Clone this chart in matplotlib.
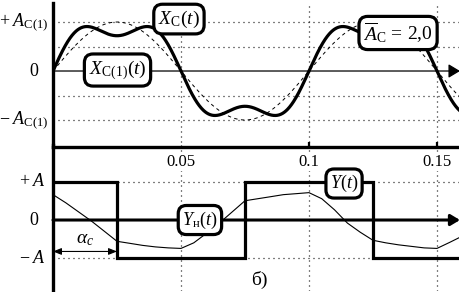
import numpy as np
import matplotlib
matplotlib.use("Agg")
import matplotlib.pyplot as plt

plt.rcParams['font.family'] = ['Liberation Serif', 'DejaVu Serif']
plt.rcParams['mathtext.fontset'] = 'custom'
plt.rcParams['mathtext.rm'] = 'Liberation Serif'
plt.rcParams['mathtext.it'] = 'Liberation Serif:italic'
plt.rcParams['mathtext.bf'] = 'Liberation Serif:bold'

# ---------------- data ----------------
T_MAX = 0.159
PERIOD = 0.1
harmonic_orders = [1, 3]
xc_amplitudes = [1.0, 0.28]      # X_C(t): fundamental + 3rd harmonic
xc1_amplitudes = [1.0, 0.0]      # X_C(1)(t): fundamental only

y_switch_times = [0.0, 0.025, 0.075, 0.125, T_MAX]
y_levels = [1, -1, 1, -1]

yh_times = [0.000, 0.005, 0.010, 0.015, 0.020, 0.025, 0.030, 0.035, 0.040,
            0.045, 0.050, 0.055, 0.060, 0.065, 0.070, 0.075, 0.080, 0.085,
            0.090, 0.095, 0.100, 0.105, 0.110, 0.115, 0.120, 0.125, 0.130,
            0.135, 0.140, 0.145, 0.150, 0.155, 0.159]
yh_values = [0.667, 0.453, 0.213, -0.027, -0.293, -0.560, -0.613, -0.667, -0.707,
             -0.733, -0.747, -0.600, -0.347, -0.080, 0.213, 0.507, 0.560, 0.613,
             0.667, 0.693, 0.720, 0.560, 0.267, -0.080, -0.320, -0.533, -0.600,
             -0.653, -0.693, -0.733, -0.747, -0.587, -0.453]

x_ticks = [0.05, 0.1, 0.15]
x_tick_labels = ['0.05', '0.1', '0.15']
alpha_c = 0.025

# ---------------- figure ----------------
fig = plt.figure(figsize=(4.6, 2.92), dpi=100)
W, H = 460.0, 292.0
ax1 = fig.add_axes([53 / W, (H - 147) / H, 407 / W, 144 / H])
ax2 = fig.add_axes([53 / W, 1 / H, 407 / W, 146 / H])
for ax in (ax1, ax2):
    ax.set_facecolor('none')
    ax.set_xlim(0, T_MAX)
    ax.set_xticks([])
    ax.set_yticks([])
    for s in ('top', 'right'):
        ax.spines[s].set_visible(False)
    ax.spines['left'].set_linewidth(2.4)
ax1.set_ylim(-1.551, 1.388)
ax2.set_ylim(-1.867, 1.973)
ax1.spines['bottom'].set_linewidth(2.4)
ax2.spines['bottom'].set_visible(False)

dot = dict(color='black', lw=0.9, ls=(0, (0.8, 3.2)), zorder=1)
for v in (1, 0.5, -0.5, -1):
    ax1.axhline(v, **dot)
for v in (1, -1):
    ax2.axhline(v, **dot)
for tx in x_ticks:
    ax1.axvline(tx, **dot)
    ax2.axvline(tx, **dot)

# ticks on top axis bottom spine
for tx in x_ticks[1:]:
    ax1.plot([tx, tx], [-1.551, -1.45], color='black', lw=1.6, solid_capstyle='butt', clip_on=False)

# zero lines with arrows
ax1.annotate('', xy=(T_MAX, 0), xytext=(0, 0),
             arrowprops=dict(arrowstyle='-|>,head_length=0.5,head_width=0.3', color='black', lw=0.9,
                             mutation_scale=14, shrinkA=0, shrinkB=0), zorder=2)
ax2.annotate('', xy=(T_MAX, 0), xytext=(0, 0),
             arrowprops=dict(arrowstyle='-|>,head_length=0.5,head_width=0.3', color='black', lw=2.2,
                             mutation_scale=11, shrinkA=0, shrinkB=0), zorder=2)

# ---------------- curves ----------------
t = np.linspace(0, T_MAX, 1200)
w = 2 * np.pi / PERIOD
xc = sum(a * np.sin(k * w * t) for k, a in zip(harmonic_orders, xc_amplitudes))
xc1 = sum(a * np.sin(k * w * t) for k, a in zip(harmonic_orders, xc1_amplitudes))
ax1.plot(t, xc1, color='black', lw=0.7, ls=(0, (3.5, 3.5)), zorder=3)
ax1.plot(t, xc, color='black', lw=2.3, zorder=4)

ax2.step(y_switch_times, y_levels + [y_levels[-1]], where='post', color='black', lw=2.3,
         solid_joinstyle='miter', zorder=4)
ax2.plot(yh_times, yh_values, color='black', lw=0.8, zorder=3)

# ---------------- labels ----------------
box = dict(boxstyle='round,pad=0.22,rounding_size=0.45', fc='white', ec='black', lw=2.3)
ax1.text(0.0492, 1.06, r'$X_{\mathrm{C}}(t)$', fontsize=14, ha='center', va='center', bbox=box, zorder=10)
ax1.text(0.0252, 0.02, r'$X_{\mathrm{C(1)}}(t)$', fontsize=14, ha='center', va='center', bbox=box, zorder=10)
ax1.text(0.1348, 0.776, r'$\overline{A}_{\mathrm{C}}\,=\,2{,}0$', fontsize=14, ha='center', va='center',
         bbox=box, zorder=10)
ax2.text(0.1137, 0.96, r'$Y(t)$', fontsize=13, ha='center', va='center', bbox=box, zorder=10)
ax2.text(0.0574, 0.0, r'$Y_{\mathrm{н}}(t)$', fontsize=13, ha='center', va='center', bbox=box, zorder=10)

# y labels
def ylab(ax, v, s, dx=-3, ha='right'):
    ax.annotate(s, xy=(0, v), xycoords=('axes fraction', 'data'), xytext=(dx, 0),
                textcoords='offset points', ha=ha, va='center', fontsize=13, annotation_clip=False)

ylab(ax1, 1, r'$+\;A_{\mathrm{C(1)}}$')
ylab(ax1, 0, r'$0$', dx=-10)
ylab(ax1, -1, r'$-\;A_{\mathrm{C(1)}}$')
ylab(ax2, 1, r'$+\;A$', dx=-5)
ylab(ax2, 0, r'$0$', dx=-10)
ylab(ax2, -1, r'$-\;A$', dx=-5)

# x tick labels
for tx, lab in zip(x_ticks, x_tick_labels):
    ax2.text(tx, 1.52, lab, fontsize=12, ha='center', va='center',
             bbox=dict(fc='white', ec='none', pad=0.5), zorder=8)

# alpha_c dimension
ax2.annotate('', xy=(alpha_c, -0.827), xytext=(0, -0.827),
             arrowprops=dict(arrowstyle='<|-|>,head_length=0.5,head_width=0.2', color='black', lw=0.8,
                             mutation_scale=10, shrinkA=0, shrinkB=0), zorder=5)
ax2.text(0.0125, -0.5, r'$\alpha_c$', fontsize=14, ha='center', va='center', zorder=6)

ax2.text(0.0805, -1.573, 'б)', fontsize=14, ha='center', va='center')

fig.savefig('out.png', dpi=100)
